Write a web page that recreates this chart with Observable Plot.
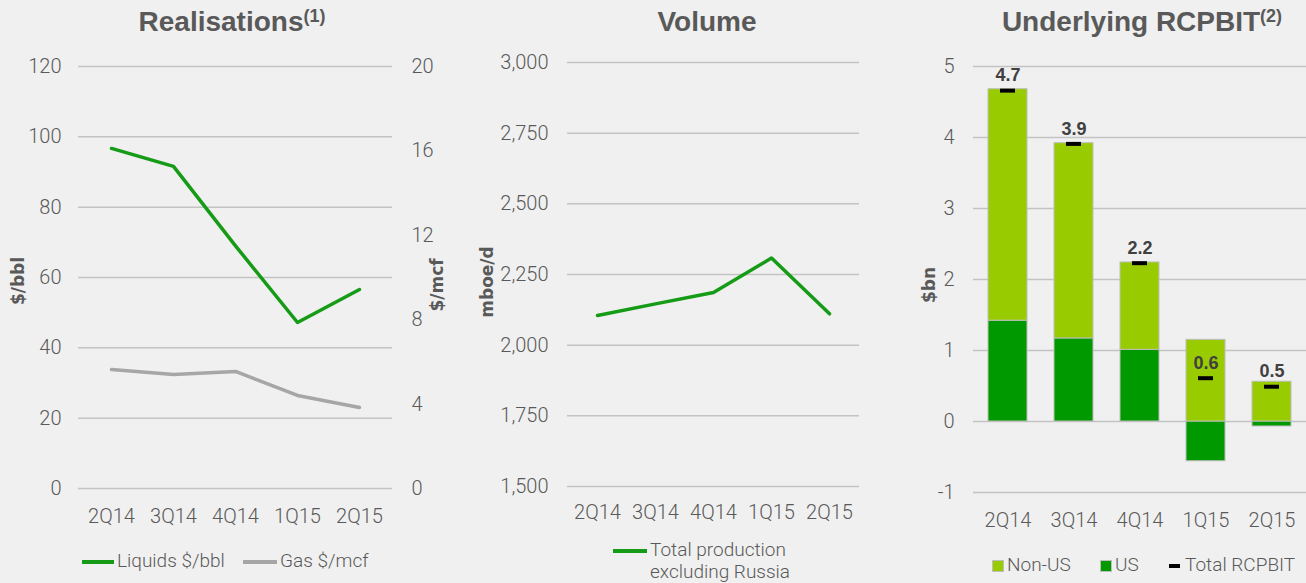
<!DOCTYPE html>
<html><head><meta charset="utf-8">
<script src="https://cdn.jsdelivr.net/npm/d3@7"></script>
<script src="https://cdn.jsdelivr.net/npm/@observablehq/plot@0.6"></script>
<style>
body{margin:0;background:#f0f0f0;}
#root{position:relative;width:1306px;height:583px;overflow:hidden;background:#f0f0f0;font-family:Roboto;font-weight:300;color:#595959;}
.panel{position:absolute;top:0;}
.title{position:absolute;top:8px;line-height:28px;font-family:"Liberation Sans";font-weight:bold;font-size:28px;color:#595959;white-space:nowrap;transform:translateX(-50%);}
.title span{font-size:18px;position:relative;top:-9px;}
.ylab{position:absolute;font-family:"DejaVu Sans";font-weight:bold;font-size:17px;color:#595959;white-space:nowrap;transform:translate(-50%,-50%) rotate(-90deg);}
.leg{position:absolute;font-family:Roboto;font-weight:300;font-size:19px;line-height:20px;white-space:nowrap;color:#595959;}
.sw{position:absolute;}
</style></head>
<body><div id="root"></div>
<script>
// ---- data ----
const quarters = ["2Q14","3Q14","4Q14","1Q15","2Q15"];
const liquids = [96.7, 91.6, 69.0, 47.2, 56.6];      // $/bbl
const gas = [5.64, 5.40, 5.55, 4.41, 3.84];          // $/mcf
const leftTicks = [0,20,40,60,80,100,120];
const rightTicks = [0,4,8,12,16,20];
const volume = [2105, 2146, 2186, 2308, 2111];       // mboe/d
const volTicks = [1500,1750,2000,2250,2500,2750,3000];
const nonUS = [3.26, 2.75, 1.23, 1.15, 0.56];        // $bn
const us = [1.42, 1.17, 1.01, -0.56, -0.07];
const total = [4.66, 3.91, 2.23, 0.61, 0.49];
const totalLabels = ["4.7","3.9","2.2","0.6","0.5"];
const rcTicks = [-1,0,1,2,3,4,5];

const GRID = "#c3c3c3", TXT = "#595959";
const LINE_GREEN = "#169b16", GAS_GREY = "#a6a6a6";
const LIGHT = "#99cc00", DARK = "#009a00";
const FS = 20;
const baseStyle = {background:"transparent", fontFamily:"Roboto", fontWeight:300, fontSize:FS+"px", color:TXT, overflow:"visible"};
const root = document.getElementById("root");
function place(el, left){ const d=document.createElement("div"); d.className="panel"; d.style.left=left+"px"; d.appendChild(el); root.appendChild(d); }
function html(s){ root.insertAdjacentHTML("beforeend", s); }

// ---- Panel 1: Realisations ----
const ratio = d3.max(leftTicks)/d3.max(rightTicks);
const rows1 = quarters.map((q,i)=>({q, liquids:liquids[i], gas:gas[i]}));
place(Plot.plot({
  width:460, height:583, marginTop:66, marginBottom:95, marginLeft:78, marginRight:68,
  style:baseStyle,
  x:{type:"point", domain:quarters, padding:0.5},
  y:{domain:[0, d3.max(leftTicks)]},
  marks:[
    Plot.gridY(leftTicks,{stroke:GRID, strokeOpacity:1, strokeWidth:1.5}),
    Plot.axisY(leftTicks,{anchor:"left", tickSize:0, tickPadding:17, fontSize:FS, label:null}),
    Plot.axisY(rightTicks.map(d=>d*ratio),{anchor:"right", tickSize:0, tickPadding:19, fontSize:FS, tickFormat:d=>String(d/ratio), label:null}),
    Plot.axisX({tickSize:0, tickPadding:20, fontSize:FS, label:null}),
    Plot.line(rows1,{x:"q", y:d=>d.gas*ratio, stroke:GAS_GREY, strokeWidth:3.5}),
    Plot.line(rows1,{x:"q", y:"liquids", stroke:LINE_GREEN, strokeWidth:3.5})
  ]
}), 0);

// ---- Panel 2: Volume ----
const rows2 = quarters.map((q,i)=>({q, v:volume[i]}));
place(Plot.plot({
  width:420, height:583, marginTop:62, marginBottom:97, marginLeft:107, marginRight:21,
  style:baseStyle,
  x:{type:"point", domain:quarters, padding:0.5},
  y:{domain:[d3.min(volTicks), d3.max(volTicks)]},
  marks:[
    Plot.gridY(volTicks,{stroke:GRID, strokeOpacity:1, strokeWidth:1.5}),
    Plot.axisY(volTicks,{anchor:"left", tickSize:0, tickPadding:19, fontSize:FS, tickFormat:d3.format(","), label:null}),
    Plot.axisX({tickSize:0, tickPadding:18, fontSize:FS, label:null}),
    Plot.line(rows2,{x:"q", y:"v", stroke:LINE_GREEN, strokeWidth:3.5})
  ]
}), 460);

// ---- Panel 3: Underlying RCPBIT ----
const stackRows = [
  ...quarters.map((q,i)=>({q, series:"US", value:us[i]})),
  ...quarters.map((q,i)=>({q, series:"Non-US", value:nonUS[i]}))
];
const rows3 = quarters.map((q,i)=>({q, total:total[i], label:totalLabels[i]}));
place(Plot.plot({
  width:426, height:583, marginTop:66, marginBottom:91, marginLeft:93, marginRight:0,
  style:baseStyle,
  x:{type:"band", domain:quarters, paddingInner:0.41, paddingOuter:0.205},
  y:{domain:[d3.min(rcTicks), d3.max(rcTicks)]},
  color:{domain:["Non-US","US"], range:[LIGHT, DARK]},
  marks:[
    Plot.gridY(rcTicks,{stroke:GRID, strokeOpacity:1, strokeWidth:1.5}),
    Plot.axisY(rcTicks,{anchor:"left", tickSize:0, tickPadding:19, fontSize:FS, tickFormat:d=>String(d), label:null}),
    Plot.axisX({tickSize:0, tickPadding:20, fontSize:FS, label:null}),
    Plot.barY(stackRows,{x:"q", y:"value", fill:"series", stroke:"#bdbdbd", strokeWidth:1}),
    Plot.tickY(rows3,{x:"q", y:"total", stroke:"black", strokeWidth:4, insetLeft:12, insetRight:12}),
    Plot.text(rows3,{x:"q", y:"total", text:"label", dy:-15, fill:"#404040", fontWeight:"bold", fontSize:18, fontFamily:"Liberation Sans"})
  ]
}), 880);

// ---- titles, axis labels, legends ----
html(`<div class="title" style="left:232px">Realisations<span>(1)</span></div>`);
html(`<div class="title" style="left:707px">Volume</div>`);
html(`<div class="title" style="left:1142px">Underlying RCPBIT<span>(2)</span></div>`);
html(`<div class="ylab" style="left:18px;top:281px">$/bbl</div>`);
html(`<div class="ylab" style="left:437px;top:285px">$/mcf</div>`);
html(`<div class="ylab" style="left:487px;top:282px">mboe/d</div>`);
html(`<div class="ylab" style="left:929px;top:285px">$bn</div>`);

html(`<div class="sw" style="left:82px;top:560px;width:32px;height:4px;background:${LINE_GREEN}"></div>`);
html(`<div class="leg" style="left:117px;top:551px">Liquids $/bbl</div>`);
html(`<div class="sw" style="left:243px;top:560px;width:34px;height:4px;background:${GAS_GREY}"></div>`);
html(`<div class="leg" style="left:280px;top:551px">Gas $/mcf</div>`);

html(`<div class="sw" style="left:613px;top:549px;width:34px;height:4px;background:${LINE_GREEN}"></div>`);
html(`<div class="leg" style="left:650px;top:539px;line-height:22px">Total production<br>excluding Russia</div>`);

html(`<div class="sw" style="left:992px;top:560px;width:10px;height:10px;background:${LIGHT};border:1px solid #bdbdbd"></div>`);
html(`<div class="leg" style="left:1007px;top:555px">Non-US</div>`);
html(`<div class="sw" style="left:1100px;top:560px;width:10px;height:10px;background:${DARK};border:1px solid #bdbdbd"></div>`);
html(`<div class="leg" style="left:1115px;top:555px">US</div>`);
html(`<div class="sw" style="left:1169px;top:564px;width:11px;height:4px;background:black"></div>`);
html(`<div class="leg" style="left:1185px;top:555px">Total RCPBIT</div>`);
</script>
</body></html>
